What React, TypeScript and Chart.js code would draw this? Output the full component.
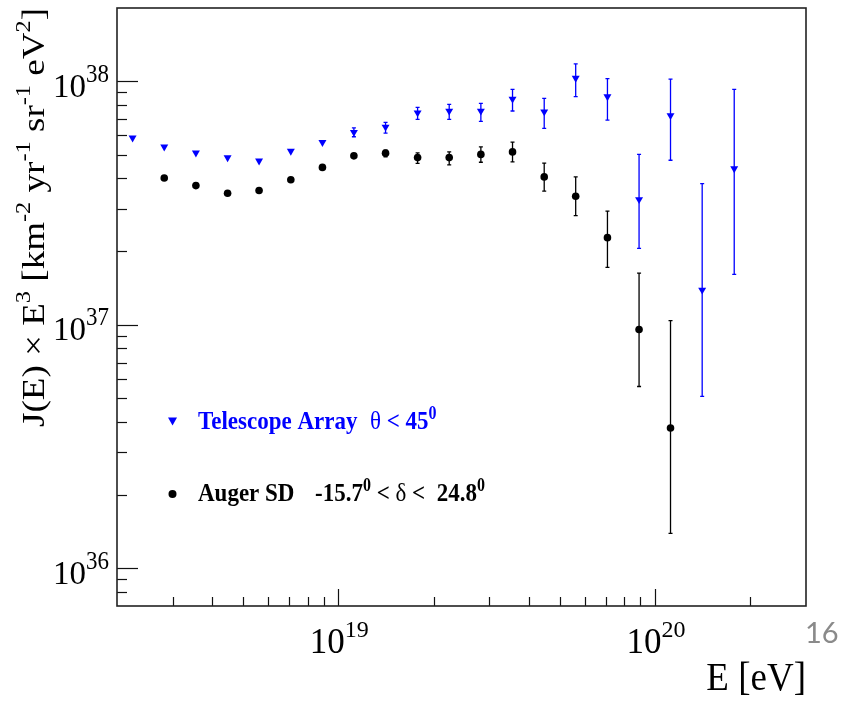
import React, { useEffect, useRef } from "react";
import { Chart, registerables } from "chart.js";
Chart.register(...registerables);

// ---------- data ----------
const TA_E = [2.24e18, 2.82e18, 3.55e18, 4.47e18, 5.62e18, 7.08e18, 8.91e18, 1.12e19, 1.41e19, 1.78e19, 2.24e19, 2.82e19, 3.55e19, 4.47e19, 5.62e19, 7.08e19, 8.91e19, 1.12e20, 1.41e20, 1.78e20];
const TA_J = [5.86e37, 5.38e37, 5.08e37, 4.86e37, 4.71e37, 5.17e37, 5.61e37, 6.18e37, 6.49e37, 7.43e37, 7.55e37, 7.55e37, 8.46e37, 7.5e37, 1.03e38, 8.65e37, 3.27e37, 7.24e37, 1.39e37, 4.38e37];
const TA_LO = [null, null, null, null, null, null, null, 5.92e37, 6.12e37, 6.98e37, 6.98e37, 6.84e37, 7.55e37, 6.41e37, 8.65e37, 6.93e37, 2.06e37, 4.74e37, 5.08e36, 1.61e37];
const TA_HI = [null, null, null, null, null, null, null, 6.44e37, 6.78e37, 7.82e37, 8.04e37, 8.11e37, 9.27e37, 8.51e37, 1.18e38, 1.025e38, 5.01e37, 1.02e38, 3.8e37, 9.27e37];

const AUGER_E = [2.82e18, 3.55e18, 4.47e18, 5.62e18, 7.08e18, 8.91e18, 1.12e19, 1.41e19, 1.78e19, 2.24e19, 2.82e19, 3.55e19, 4.47e19, 5.62e19, 7.08e19, 8.91e19, 1.12e20];
const AUGER_J = [4.01e37, 3.73e37, 3.47e37, 3.56e37, 3.94e37, 4.43e37, 4.94e37, 5.07e37, 4.86e37, 4.86e37, 5.01e37, 5.13e37, 4.05e37, 3.37e37, 2.28e37, 9.57e36, 3.77e36];
const AUGER_LO = [null, null, null, null, null, null, null, 4.9e37, 4.6e37, 4.54e37, 4.65e37, 4.67e37, 3.54e37, 2.81e37, 1.72e37, 5.58e36, 1.39e36];
const AUGER_HI = [null, null, null, null, null, null, null, 5.21e37, 5.08e37, 5.13e37, 5.38e37, 5.63e37, 4.61e37, 4.05e37, 2.93e37, 1.63e37, 1.04e37];

const X_MIN = 2e18;
const X_MAX = 3e20;
const Y_MIN = 7e35;
const Y_MAX = 2e38;

const X_MAJOR = [1e19, 1e20];
const X_MAJOR_EXP = ["19", "20"];
const X_MINOR = [3e18, 4e18, 5e18, 6e18, 7e18, 8e18, 9e18, 2e19, 3e19, 4e19, 5e19, 6e19, 7e19, 8e19, 9e19, 2e20];
const Y_MAJOR = [1e36, 1e37, 1e38];
const Y_MAJOR_EXP = ["36", "37", "38"];
const Y_MINOR = [8e35, 9e35, 2e36, 3e36, 4e36, 5e36, 6e36, 7e36, 8e36, 9e36, 2e37, 3e37, 4e37, 5e37, 6e37, 7e37, 8e37, 9e37];

const BLUE = "#0000ff";
const SERIF = "'Liberation Serif', 'Times New Roman', serif";

type Part = { t: string; sup?: boolean; font?: string };

function drawParts(
  ctx: CanvasRenderingContext2D,
  parts: Part[],
  x: number,
  y: number,
  mainFont: string,
  supFont: string,
  rise: number,
  align: "left" | "right" | "center",
  color: string,
  sy: number = 1
) {
  const widths = parts.map((p) => {
    ctx.font = p.font || (p.sup ? supFont : mainFont);
    return ctx.measureText(p.t).width;
  });
  const total = widths.reduce((a, b) => a + b, 0);
  let cx = align === "left" ? x : align === "right" ? x - total : x - total / 2;
  ctx.save();
  ctx.translate(0, y);
  ctx.scale(1, sy);
  ctx.fillStyle = color;
  ctx.textAlign = "left";
  ctx.textBaseline = "alphabetic";
  parts.forEach((p, i) => {
    ctx.font = p.font || (p.sup ? supFont : mainFont);
    ctx.fillText(p.t, cx, p.sup ? -rise / sy : 0);
    cx += widths[i];
  });
  ctx.restore();
  return total;
}

const errorBarPlugin = {
  id: "errorBars",
  beforeDatasetsDraw(chart: any) {
    const { ctx, scales } = chart;
    const xs = scales.x;
    const ys = scales.y;
    const sets = [
      { e: TA_E, lo: TA_LO, hi: TA_HI, c: BLUE },
      { e: AUGER_E, lo: AUGER_LO, hi: AUGER_HI, c: "#000" },
    ];
    ctx.save();
    ctx.lineWidth = 1.3;
    sets.forEach((s) => {
      ctx.strokeStyle = s.c;
      s.e.forEach((e, i) => {
        const lo = s.lo[i];
        const hi = s.hi[i];
        if (lo == null || hi == null) return;
        const px = xs.getPixelForValue(e);
        const p1 = ys.getPixelForValue(lo);
        const p2 = ys.getPixelForValue(hi);
        ctx.beginPath();
        ctx.moveTo(px, p1);
        ctx.lineTo(px, p2);
        ctx.moveTo(px - 2, p1);
        ctx.lineTo(px + 2, p1);
        ctx.moveTo(px - 2, p2);
        ctx.lineTo(px + 2, p2);
        ctx.stroke();
      });
    });
    ctx.restore();
  },
};

const axesPlugin = {
  id: "rootAxes",
  afterDraw(chart: any) {
    const { ctx, chartArea: a, scales } = chart;
    const xs = scales.x;
    const ys = scales.y;
    ctx.save();
    ctx.strokeStyle = "#111";
    ctx.lineWidth = 1.2;
    const line = (x1: number, y1: number, x2: number, y2: number) => {
      ctx.beginPath();
      ctx.moveTo(x1, y1);
      ctx.lineTo(x2, y2);
      ctx.stroke();
    };
    X_MAJOR.forEach((v) => {
      const px = Math.round(xs.getPixelForValue(v)) + 0.5;
      line(px, a.bottom, px, a.bottom - 17);
    });
    X_MINOR.forEach((v) => {
      const px = Math.round(xs.getPixelForValue(v)) + 0.5;
      line(px, a.bottom, px, a.bottom - 9);
    });
    Y_MAJOR.forEach((v) => {
      const py = Math.round(ys.getPixelForValue(v)) + 0.5;
      line(a.left, py, a.left + 21, py);
    });
    Y_MINOR.forEach((v) => {
      const py = Math.round(ys.getPixelForValue(v)) + 0.5;
      line(a.left, py, a.left + 10, py);
    });
    // frame
    ctx.lineWidth = 1.6;
    ctx.strokeStyle = "#222";
    ctx.strokeRect(a.left, a.top, a.right - a.left, a.bottom - a.top);

    // y tick labels
    Y_MAJOR.forEach((v, i) => {
      const py = ys.getPixelForValue(v);
      drawParts(ctx, [{ t: "10" }, { t: Y_MAJOR_EXP[i], sup: true }], a.left - 8, py + 15.5, `33px ${SERIF}`, `23px ${SERIF}`, 15, "right", "#000", 1.05);
    });
    // x tick labels
    X_MAJOR.forEach((v, i) => {
      const px = xs.getPixelForValue(v);
      drawParts(ctx, [{ t: "10" }, { t: X_MAJOR_EXP[i], sup: true }], px + 1, 652.5, `35px ${SERIF}`, `24px ${SERIF}`, 16, "center", "#000", 1.0);
    });

    // x title
    drawParts(ctx, [{ t: "E [eV]" }], a.right, 690, `37px ${SERIF}`, `24px ${SERIF}`, 0, "right", "#000", 1.08);

    // y title (rotated)
    ctx.save();
    const yParts: Part[] = [
      { t: "J(E) \u00d7 E" },
      { t: "3", sup: true },
      { t: " [km" },
      { t: "-2", sup: true },
      { t: " yr" },
      { t: "-1", sup: true },
      { t: " sr" },
      { t: "-1", sup: true },
      { t: " eV" },
      { t: "2", sup: true },
      { t: "]" },
    ];
    const mainF = `32px ${SERIF}`;
    const supF = `21px ${SERIF}`;
    let total = 0;
    yParts.forEach((p) => {
      ctx.font = p.sup ? supF : mainF;
      total += ctx.measureText(p.t).width;
    });
    const target = 427 - 8;
    ctx.translate(44, 427);
    ctx.rotate(-Math.PI / 2);
    ctx.scale(target / total, 1);
    drawParts(ctx, yParts, 0, 0, mainF, supF, 14, "left", "#000");
    ctx.restore();

    // legend
    const lf = `bold 23px ${SERIF}`;
    const lfs = `bold 16px ${SERIF}`;
    const sym = `23px ${SERIF}`;
    const LS = 1.14;
    // triangle marker
    ctx.fillStyle = BLUE;
    ctx.beginPath();
    ctx.moveTo(168, 417.5);
    ctx.lineTo(177, 417.5);
    ctx.lineTo(172.5, 425.5);
    ctx.closePath();
    ctx.fill();
    drawParts(ctx, [{ t: "Telescope Array" }], 198, 428.5, lf, lfs, 9, "left", BLUE, LS);
    drawParts(ctx, [{ t: "\u03b8", font: sym }, { t: " < 45" }, { t: "0", sup: true }], 370, 428.5, lf, lfs, 10, "left", BLUE, LS);
    // circle marker
    ctx.fillStyle = "#000";
    ctx.beginPath();
    ctx.arc(172.5, 494, 4, 0, Math.PI * 2);
    ctx.fill();
    drawParts(ctx, [{ t: "Auger SD" }], 198, 501, lf, lfs, 9, "left", "#000", LS);
    drawParts(
      ctx,
      [{ t: "-15.7" }, { t: "0", sup: true }, { t: " < " }, { t: "\u03b4", font: sym }, { t: " <  24.8" }, { t: "0", sup: true }],
      315,
      501,
      lf,
      lfs,
      10,
      "left",
      "#000",
      LS
    );

    // slide number
    ctx.font = "29px Lato, 'Open Sans', sans-serif";
    ctx.fillStyle = "#8a8a8a";
    ctx.textAlign = "left";
    ctx.fillText("16", 805, 643);
    ctx.restore();
  },
};

export default function App() {
  const ref = useRef<HTMLCanvasElement | null>(null);
  useEffect(() => {
    const canvas = ref.current;
    if (!canvas) return;
    const chart = new Chart(canvas, {
      type: "scatter",
      data: {
        datasets: [
          {
            label: "Telescope Array",
            data: TA_E.map((e, i) => ({ x: e, y: TA_J[i] })),
            pointStyle: "triangle",
            rotation: 180,
            radius: 4.6,
            backgroundColor: BLUE,
            borderColor: BLUE,
            borderWidth: 0,
            showLine: false,
          },
          {
            label: "Auger SD",
            data: AUGER_E.map((e, i) => ({ x: e, y: AUGER_J[i] })),
            pointStyle: "circle",
            radius: 3.8,
            backgroundColor: "#000",
            borderColor: "#000",
            borderWidth: 0,
            showLine: false,
          },
        ],
      },
      options: {
        responsive: false,
        animation: false,
        devicePixelRatio: 1,
        events: [],
        layout: { padding: { left: 117, top: 8, right: 46, bottom: 95 } },
        scales: {
          x: { type: "logarithmic", min: X_MIN, max: X_MAX, display: false },
          y: { type: "logarithmic", min: Y_MIN, max: Y_MAX, display: false },
        },
        plugins: { legend: { display: false }, tooltip: { enabled: false } },
      },
      plugins: [errorBarPlugin, axesPlugin],
    } as any);
    return () => chart.destroy();
  }, []);
  return (
    <div style={{ position: "absolute", left: 0, top: 0, width: 852, height: 701, background: "#fff" }}>
      <canvas ref={ref} width={852} height={701} style={{ display: "block", width: 852, height: 701 }} />
    </div>
  );
}
